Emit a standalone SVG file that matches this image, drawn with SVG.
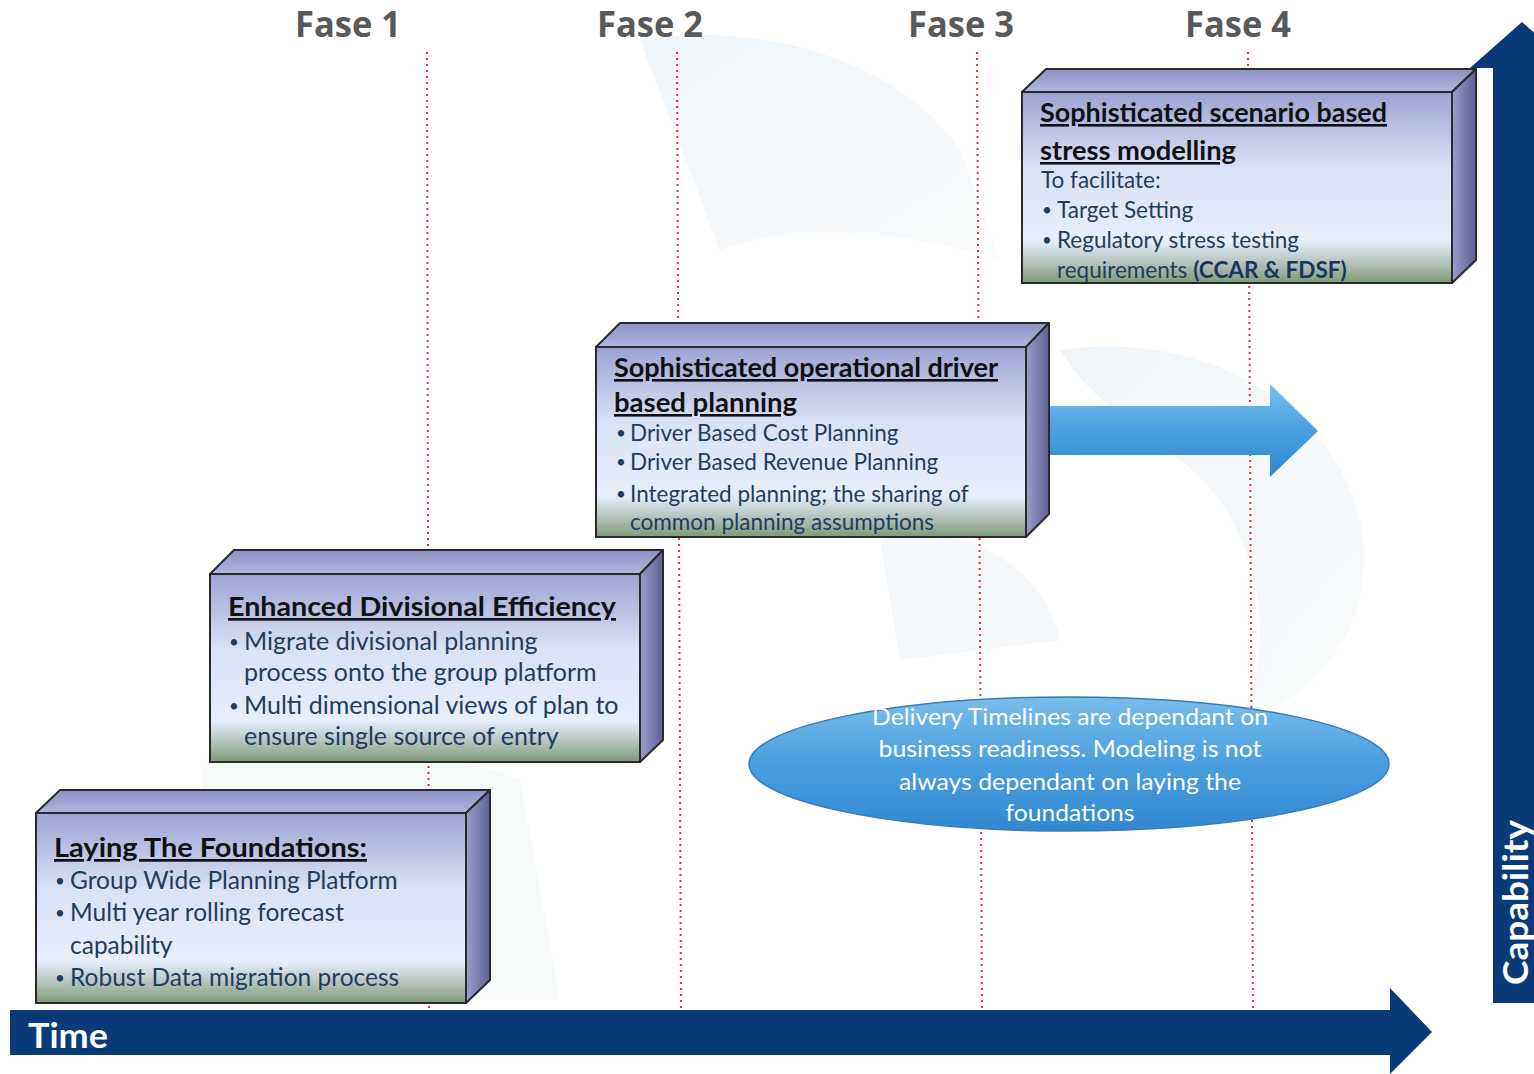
<svg xmlns="http://www.w3.org/2000/svg" width="1534" height="1074" viewBox="0 0 1534 1074">
<defs>
<linearGradient id="front" x1="0" y1="0" x2="0" y2="1">
<stop offset="0" stop-color="#9ea2d3"/>
<stop offset="0.4" stop-color="#dbe1f6"/>
<stop offset="0.78" stop-color="#e8eefb"/>
<stop offset="0.88" stop-color="#bcc8c4"/>
<stop offset="1" stop-color="#7f9a7c"/>
</linearGradient>
<linearGradient id="top" x1="0" y1="0" x2="0" y2="1">
<stop offset="0" stop-color="#8d90c2"/>
<stop offset="1" stop-color="#b3b6e0"/>
</linearGradient>
<linearGradient id="side" x1="0" y1="0" x2="1" y2="0">
<stop offset="0" stop-color="#9a9dcc"/>
<stop offset="1" stop-color="#5d6090"/>
</linearGradient>
<linearGradient id="blueArrow" x1="0" y1="0" x2="0" y2="1">
<stop offset="0" stop-color="#7cc0ee"/>
<stop offset="0.5" stop-color="#4aa0e0"/>
<stop offset="1" stop-color="#2f86cf"/>
</linearGradient>
<linearGradient id="ell" x1="0" y1="0" x2="0" y2="1">
<stop offset="0" stop-color="#79bdec"/>
<stop offset="0.5" stop-color="#4a9edf"/>
<stop offset="1" stop-color="#3288d0"/>
</linearGradient>
<linearGradient id="wm" x1="0" y1="0" x2="1" y2="1">
<stop offset="0" stop-color="#e4eef5"/>
<stop offset="1" stop-color="#f6f9fb"/>
</linearGradient>
<style>
.face{fill:url(#front);stroke:#2a2a2a;stroke-width:2}
.topf{fill:url(#top);stroke:#2a2a2a;stroke-width:2;stroke-linejoin:round}
.sidef{fill:url(#side);stroke:#2a2a2a;stroke-width:2;stroke-linejoin:round}
.ttl{font-family:Lato,"Liberation Sans",sans-serif;font-weight:bold;fill:#111;text-decoration:underline}
.body{font-family:Lato,"Liberation Sans",sans-serif;fill:#1f3d5e}
.b{font-size:17px}
.fase{font-family:"Open Sans","Liberation Sans",sans-serif;font-weight:bold;font-size:35px;fill:#595959}
.dot{stroke:#e03040;stroke-width:2;stroke-dasharray:2 4}
.axis{fill:#0b3a78}
</style>
</defs>
<rect width="1534" height="1074" fill="#ffffff"/>
<g id="watermark" opacity="0.6">
<path d="M640 40 C760 20 900 60 960 150 L1000 260 C900 230 800 220 720 250 Z" fill="url(#wm)"/>
<path d="M1060 350 C1200 330 1330 400 1360 520 C1380 620 1320 700 1240 720 C1280 640 1260 520 1180 460 C1130 420 1090 400 1060 350 Z" fill="url(#wm)"/>
<path d="M200 760 C300 740 420 740 520 780 L560 1000 L220 1000 Z" fill="#f1f6f9"/>
<path d="M880 540 C960 520 1040 560 1060 640 L900 660 Z" fill="#eef4f8"/>
</g>
<g id="phase-lines">
<line class="dot" x1="427" y1="52" x2="429" y2="1010"/>
<line class="dot" x1="677" y1="52" x2="681" y2="1010"/>
<line class="dot" x1="977" y1="52" x2="982" y2="1010"/>
<line class="dot" x1="1248" y1="52" x2="1253" y2="1010"/>
</g>
<g id="phase-labels">
<text class="fase" x="295" y="37" textLength="106" lengthAdjust="spacingAndGlyphs">Fase 1</text>
<text class="fase" x="597" y="37" textLength="106" lengthAdjust="spacingAndGlyphs">Fase 2</text>
<text class="fase" x="908" y="37" textLength="106" lengthAdjust="spacingAndGlyphs">Fase 3</text>
<text class="fase" x="1185" y="37" textLength="106" lengthAdjust="spacingAndGlyphs">Fase 4</text>
</g>
<g id="connectors">
<polygon points="1049,406 1270,406 1270,384 1318,431 1270,477 1270,455 1049,455" fill="url(#blueArrow)"/>
</g>
<g id="time-axis">
<polygon class="axis" points="10,1010 1390,1010 1390,988 1432,1032 1390,1074 1390,1055 10,1055"/>
<text x="28" y="1048" font-family="Lato,'Liberation Sans',sans-serif" font-weight="bold" font-size="35" fill="#ffffff" textLength="80" lengthAdjust="spacingAndGlyphs">Time</text>
</g>
<g id="capability-axis">
<polygon class="axis" points="1493,1003 1493,68 1470,68 1522,22 1574,68 1551,68 1551,1003"/>
<text transform="translate(1528,985) rotate(-90)" font-family="Lato,'Liberation Sans',sans-serif" font-weight="bold" font-size="35" fill="#ffffff" textLength="165" lengthAdjust="spacingAndGlyphs">Capability</text>
</g>
<g id="box-foundations">
<polygon class="topf" points="36,813 60,790 490,790 466,813"/>
<polygon class="sidef" points="466,813 490,790 490,980 466,1003"/>
<rect class="face" x="36" y="813" width="430" height="190"/>
<text class="ttl" x="54" y="857" font-size="27" textLength="313" lengthAdjust="spacingAndGlyphs">Laying The Foundations:</text>
<g class="body" font-size="24.5">
<text x="55" y="887" class="b">•</text><text x="70" y="889">Group Wide Planning Platform</text>
<text x="55" y="919" class="b">•</text><text x="70" y="921">Multi year rolling forecast</text>
<text x="70" y="954">capability</text>
<text x="55" y="984" class="b">•</text><text x="70" y="986">Robust Data migration process</text>
</g>
</g>
<g id="box-divisional">
<polygon class="topf" points="210,574 234,550 663,550 640,574"/>
<polygon class="sidef" points="640,574 663,550 663,740 640,762"/>
<rect class="face" x="210" y="574" width="430" height="188"/>
<text class="ttl" x="228" y="616" font-size="27" textLength="388" lengthAdjust="spacingAndGlyphs">Enhanced Divisional Efficiency</text>
<g class="body" font-size="25">
<text x="229" y="648" class="b">•</text><text x="244" y="650">Migrate divisional planning</text>
<text x="244" y="681">process onto the group platform</text>
<text x="229" y="712" class="b">•</text><text x="244" y="714">Multi dimensional views of plan to</text>
<text x="244" y="745">ensure single source of entry</text>
</g>
</g>
<g id="box-operational">
<polygon class="topf" points="596,347 620,323 1049,323 1026,347"/>
<polygon class="sidef" points="1026,347 1049,323 1049,514 1026,537"/>
<rect class="face" x="596" y="347" width="430" height="190"/>
<text class="ttl" x="614" y="377" font-size="26" textLength="384" lengthAdjust="spacingAndGlyphs">Sophisticated operational driver</text>
<text class="ttl" x="614" y="412" font-size="26" textLength="183" lengthAdjust="spacingAndGlyphs">based planning</text>
<g class="body" font-size="22.5">
<text x="616" y="439" class="b">•</text><text x="630" y="441">Driver Based Cost Planning</text>
<text x="616" y="468" class="b">•</text><text x="630" y="470">Driver Based Revenue Planning</text>
<text x="616" y="500" class="b">•</text><text x="630" y="502">Integrated planning; the sharing of</text>
<text x="630" y="530">common planning assumptions</text>
</g>
</g>
<g id="box-scenario">
<polygon class="topf" points="1022,92 1046,69 1476,69 1452,92"/>
<polygon class="sidef" points="1452,92 1476,69 1476,260 1452,283"/>
<rect class="face" x="1022" y="92" width="430" height="191"/>
<text class="ttl" x="1040" y="122" font-size="26" textLength="347" lengthAdjust="spacingAndGlyphs">Sophisticated scenario based</text>
<text class="ttl" x="1040" y="160" font-size="26" textLength="196" lengthAdjust="spacingAndGlyphs">stress modelling</text>
<g class="body" font-size="22.5">
<text x="1041" y="188">To facilitate:</text>
<text x="1042" y="216" class="b">•</text><text x="1057" y="218">Target Setting</text>
<text x="1042" y="246" class="b">•</text><text x="1057" y="248">Regulatory stress testing</text>
<text x="1057" y="278">requirements <tspan font-weight="bold" fill="#17365d">(CCAR &amp; FDSF)</tspan></text>
</g>
</g>
<g id="note-ellipse">
<ellipse cx="1069" cy="764" rx="320" ry="67" fill="url(#ell)" stroke="#3a7ab8" stroke-width="1.5"/>
<g font-family="Lato,'Liberation Sans',sans-serif" font-size="24" fill="#ffffff" text-anchor="middle">
<text x="1070" y="725" textLength="396" lengthAdjust="spacingAndGlyphs">Delivery Timelines are dependant on</text>
<text x="1070" y="757" textLength="383" lengthAdjust="spacingAndGlyphs">business readiness. Modeling is not</text>
<text x="1070" y="790" textLength="342" lengthAdjust="spacingAndGlyphs">always dependant on laying the</text>
<text x="1070" y="821" textLength="129" lengthAdjust="spacingAndGlyphs">foundations</text>
</g>
</g>
</svg>
